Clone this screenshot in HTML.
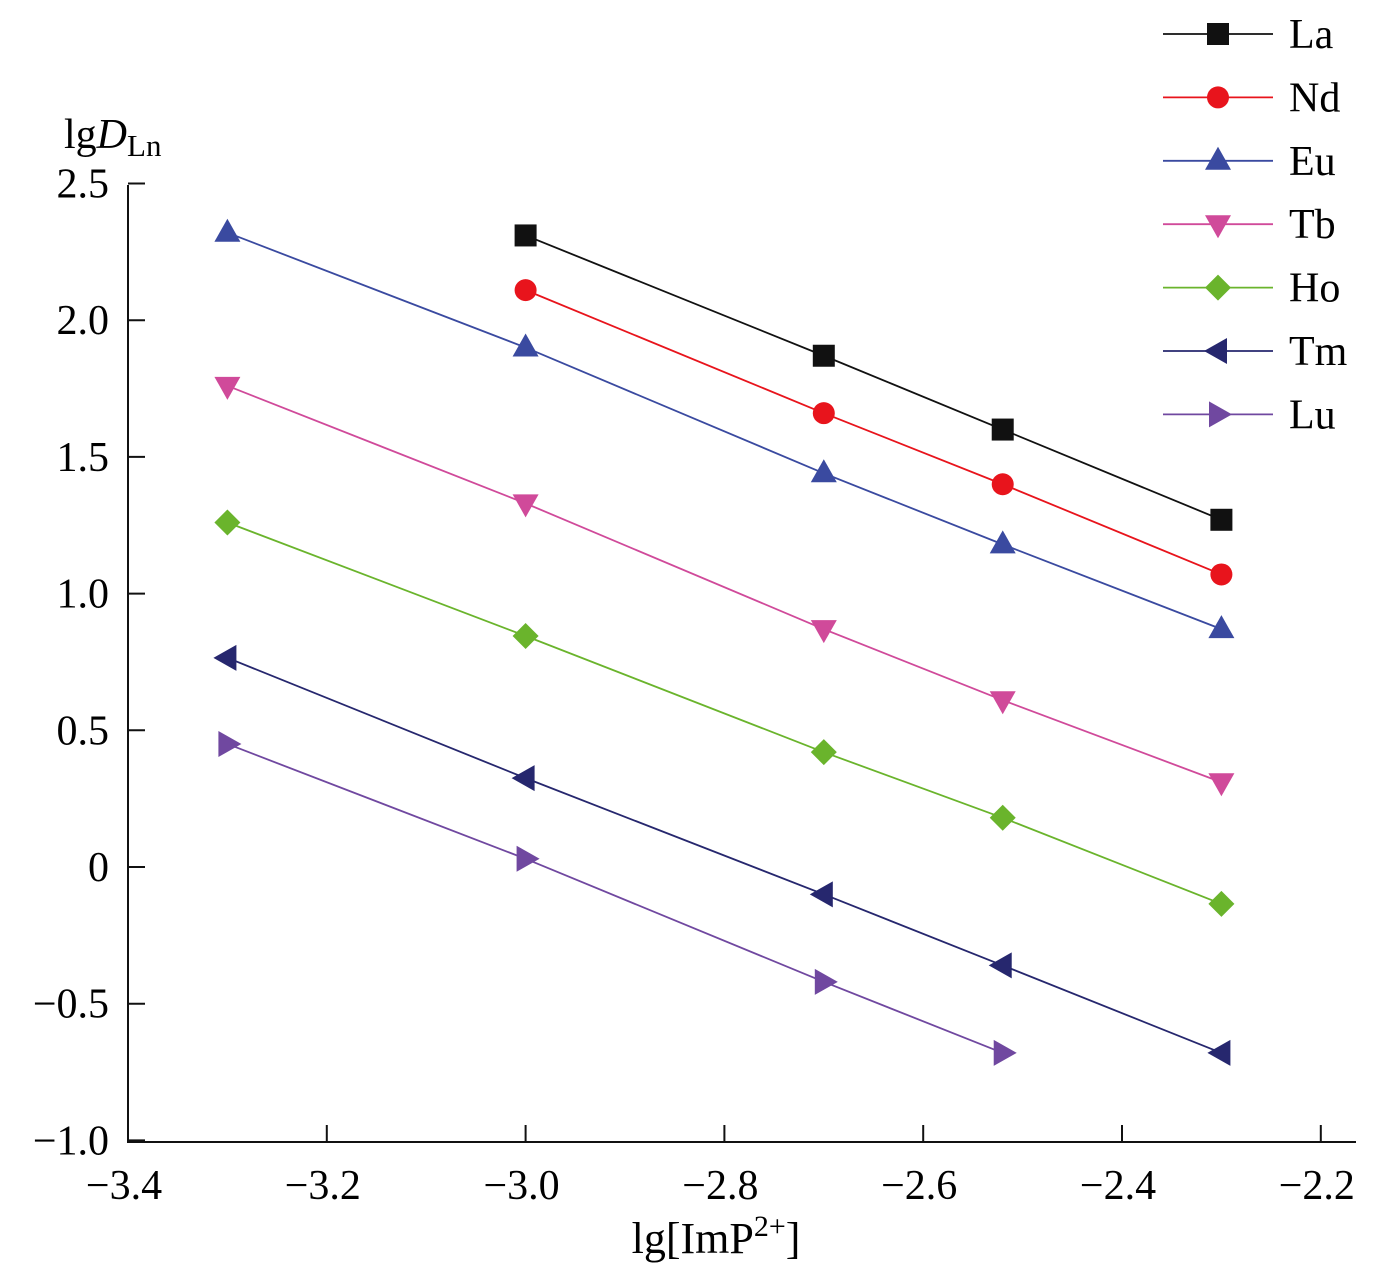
<!DOCTYPE html>
<html><head><meta charset="utf-8">
<style>
html,body{margin:0;padding:0;background:#fff;}
svg{display:block;font-family:"Liberation Serif",serif;}
</style></head>
<body>
<svg id="chart" width="1395" height="1276" viewBox="0 0 1395 1276" xmlns="http://www.w3.org/2000/svg">
<g id="axes"></g>
<g id="series"></g>
<g id="legend"></g>
<text x="64" y="148" font-size="42">lg<tspan font-style="italic">D</tspan><tspan font-size="31" dy="8">Ln</tspan></text>
<text x="716" y="1253" font-size="44" text-anchor="middle">lg[ImP<tspan font-size="30" dy="-17">2+</tspan><tspan dy="17">]</tspan></text>
</svg>
<script>
const xValues = [-3.3, -3.0, -2.7, -2.52, -2.3];
const seriesNames = ["La","Nd","Eu","Tb","Ho","Tm","Lu"];
const seriesColors = ["#111111","#e8141c","#3a4aa0","#d04a9a","#6ab42c","#26276e","#7048a0"];
const seriesMarkers = ["square","circle","up","down","diamond","left","right"];
const La = [null, 2.31, 1.87, 1.60, 1.27];
const Nd = [null, 2.11, 1.66, 1.40, 1.07];
const Eu = [2.32, 1.90, 1.44, 1.18, 0.87];
const Tb = [1.76, 1.33, 0.87, 0.61, 0.31];
const Ho = [1.26, 0.845, 0.42, 0.18, -0.135];
const Tm = [0.765, 0.325, -0.10, -0.36, -0.68];
const Lu = [0.45, 0.03, -0.42, -0.68, null];
const seriesValues = [La, Nd, Eu, Tb, Ho, Tm, Lu];
const xTicks = [-3.4,-3.2,-3.0,-2.8,-2.6,-2.4,-2.2];
const xTickLabels = ["−3.4","−3.2","−3.0","−2.8","−2.6","−2.4","−2.2"];
const yTicks = [2.5,2.0,1.5,1.0,0.5,0,-0.5,-1.0];
const yTickLabels = ["2.5","2.0","1.5","1.0","0.5","0","−0.5","−1.0"];

const NS="http://www.w3.org/2000/svg";
const X0=128, XPU=994, Y0=867, YPU=273.4;
const sx=v=>X0+(v+3.4)*XPU;
const sy=v=>Y0-v*YPU;
function mk(tag,attrs,parent){const e=document.createElementNS(NS,tag);for(const k in attrs)e.setAttribute(k,attrs[k]);parent.appendChild(e);return e;}

const axes=document.getElementById('axes');
let e=mk('line',{x1:128,y1:185,x2:128,y2:1143,stroke:'#111','stroke-width':2},axes);


e=mk('line',{x1:127,y1:1142,x2:1356,y2:1142,stroke:'#111','stroke-width':2},axes);


yTicks.forEach((v,i)=>{
  const y=sy(v);
  let t=mk('line',{x1:128,y1:y,x2:145,y2:y,stroke:'#111','stroke-width':2},axes);
  
  
  let l=mk('text',{x:109,y:y+14,'font-size':42,'text-anchor':'end'},axes);
  l.textContent=yTickLabels[i];
  
  
});
xTicks.forEach((v,i)=>{
  const x=sx(v);
  let t=mk('line',{x1:x,y1:1142,x2:x,y2:1125,stroke:'#111','stroke-width':2},axes);
  
  
  let l=mk('text',{x:x-4,y:1199,'font-size':42,'text-anchor':'middle'},axes);
  l.textContent=xTickLabels[i];
  
  
});

function marker(type,x,y,c,parent){
  const s=11;let m;
  if(type==='square')m=mk('rect',{x:x-s,y:y-s,width:2*s,height:2*s,fill:c},parent);
  else if(type==='circle')m=mk('circle',{cx:x,cy:y,r:11,fill:c},parent);
  else if(type==='diamond')m=mk('polygon',{points:`${x},${y-13} ${x+13},${y} ${x},${y+13} ${x-13},${y}`,fill:c},parent);
  else if(type==='up')m=mk('polygon',{points:`${x},${y-14} ${x+13},${y+9} ${x-13},${y+9}`,fill:c},parent);
  else if(type==='down')m=mk('polygon',{points:`${x},${y+14} ${x+13},${y-9} ${x-13},${y-9}`,fill:c},parent);
  else if(type==='left')m=mk('polygon',{points:`${x-14},${y} ${x+9},${y-13} ${x+9},${y+13}`,fill:c},parent);
  else m=mk('polygon',{points:`${x+14},${y} ${x-9},${y-13} ${x-9},${y+13}`,fill:c},parent);
  return m;
}

const series=document.getElementById('series');
seriesValues.forEach((vals,si)=>{
  const g=mk('g',{},series);
  
  
  const pts=[];
  vals.forEach((v,i)=>{if(v!==null)pts.push([sx(xValues[i]),sy(v)]);});
  const pl=mk('polyline',{points:pts.map(p=>p.join(',')).join(' '),fill:'none',stroke:seriesColors[si],'stroke-width':1.8},g);
  
  
  pts.forEach(p=>{
    const m=marker(seriesMarkers[si],p[0],p[1],seriesColors[si],g);
    
    
  });
});

const legend=document.getElementById('legend');
seriesNames.forEach((n,i)=>{
  const y=34+i*63.4;
  const g=mk('g',{},legend);
  
  
  mk('line',{x1:1163,y1:y,x2:1273,y2:y,stroke:seriesColors[i],'stroke-width':1.8},g);
  marker(seriesMarkers[i],1218,y,seriesColors[i],g);
  const t=mk('text',{x:1289,y:y+14,'font-size':42},g);
  t.textContent=n;
});
</script>
</body></html>
